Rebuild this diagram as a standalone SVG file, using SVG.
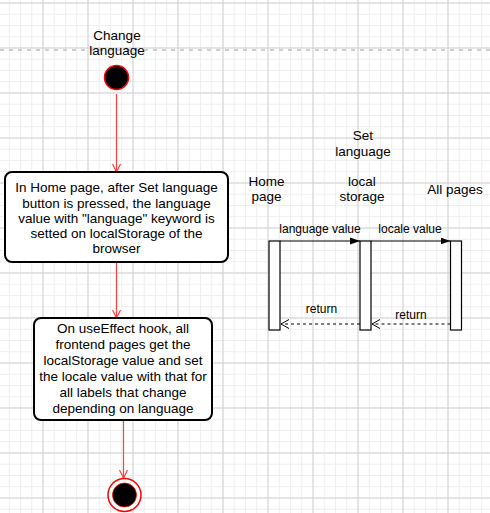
<svg xmlns="http://www.w3.org/2000/svg" width="490" height="513" viewBox="0 0 490 513">
<defs>
<pattern id="minor" width="11.25" height="11.25" patternUnits="userSpaceOnUse" x="-2.5" y="2.5">
<path d="M0 0.5H11.25M0.5 0V11.25" stroke="#eeeeee" stroke-width="1" fill="none"/>
</pattern>
<pattern id="major" width="45" height="45" patternUnits="userSpaceOnUse" x="-2.5" y="2.5">
<path d="M0 0.5H45M0.5 0V45" stroke="#d2d2d2" stroke-width="1" fill="none"/>
</pattern>
<marker id="openRed" viewBox="0 0 10 10" refX="9" refY="5" markerWidth="10" markerHeight="10" markerUnits="userSpaceOnUse" orient="auto">
<path d="M1 1L9 5L1 9" fill="none" stroke="#ff4040" stroke-width="1.2"/>
</marker>
<marker id="filled" viewBox="0 0 10 10" refX="10" refY="5" markerWidth="10" markerHeight="10" markerUnits="userSpaceOnUse" orient="auto">
<path d="M0 1.5L10 5L0 8.5Z" fill="#000"/>
</marker>
<marker id="openBlack" viewBox="0 0 10 10" refX="9" refY="5" markerWidth="10" markerHeight="10" markerUnits="userSpaceOnUse" orient="auto">
<path d="M1 0.5L9 5L1 9.5" fill="none" stroke="#000" stroke-width="1"/>
</marker>
</defs>
<style>
text{font-family:"Liberation Sans",Arial,sans-serif;fill:#000;text-anchor:middle}
.t{font-size:13.5px}
.s{font-size:12px}
.box{fill:#fff;stroke:#000;stroke-width:2}
.bar{fill:#fff;stroke:#000;stroke-width:1.2}
.red{stroke:#ff4040;stroke-width:1.2;fill:none}
.msg{stroke:#000;stroke-width:1.2;fill:none}
.ret{stroke:#000;stroke-width:1;fill:none;stroke-dasharray:3 3}
</style>
<rect width="490" height="513" fill="#fff"/>
<rect width="490" height="513" fill="url(#minor)"/>
<rect width="490" height="513" fill="url(#major)"/>
<line x1="0" y1="50" x2="490" y2="50" stroke="#c0c0c0" stroke-width="1.3" stroke-dasharray="4 5"/>

<g id="connectors">
<line class="red" x1="116.5" y1="94" x2="116.5" y2="172" marker-end="url(#openRed)"/>
<line class="red" x1="116.5" y1="262" x2="116.5" y2="318" marker-end="url(#openRed)"/>
<line class="red" x1="123.5" y1="420" x2="123.5" y2="478" marker-end="url(#openRed)"/>
<line class="msg" x1="280" y1="241" x2="360" y2="241" marker-end="url(#filled)"/>
<line class="msg" x1="371" y1="241" x2="450.5" y2="241" marker-end="url(#filled)"/>
<line class="ret" x1="360" y1="324" x2="281" y2="324" marker-end="url(#openBlack)"/>
<line class="ret" x1="450.5" y1="324" x2="372" y2="324" marker-end="url(#openBlack)"/>
<text class="s" x="320" y="233">language value</text>
<text class="s" x="410" y="233">locale value</text>
<text class="s" x="321.5" y="313">return</text>
<text class="s" x="411" y="318.5">return</text>
</g>

<g id="start">
<text class="t" x="117" y="39.5">Change</text>
<text class="t" x="117" y="54.5">language</text>
<circle cx="116.5" cy="77.5" r="12" fill="#000" stroke="#ff0000" stroke-width="1.5"/>
</g>

<g id="step1">
<rect class="box" x="5" y="172" width="223" height="90" rx="7"/>
<text class="t" x="116.5" y="192">In Home page, after Set language</text>
<text class="t" x="116.5" y="207.5">button is pressed, the language</text>
<text class="t" x="116.5" y="223">value with "language" keyword is</text>
<text class="t" x="116.5" y="238">setted on localStorage of the</text>
<text class="t" x="116.5" y="253">browser</text>
</g>

<g id="step2">
<rect class="box" x="34" y="318" width="178" height="102" rx="7"/>
<text class="t" x="123" y="333">On useEffect hook, all</text>
<text class="t" x="123" y="349">frontend pages get the</text>
<text class="t" x="123" y="365">localStorage value and set</text>
<text class="t" x="123" y="381">the locale value with that for</text>
<text class="t" x="123" y="397">all labels that change</text>
<text class="t" x="123" y="413">depending on language</text>
</g>

<g id="end">
<circle cx="124.5" cy="495" r="16.5" fill="#fff" stroke="#ff0000" stroke-width="1.5"/>
<circle cx="124.5" cy="495" r="12" fill="#000" stroke="#ff0000" stroke-width="0.8"/>
</g>

<g id="seq-title">
<text class="t" x="363" y="140">Set</text>
<text class="t" x="363" y="155.5">language</text>
</g>

<g id="home-page">
<text class="t" x="266.5" y="186">Home</text>
<text class="t" x="266.5" y="201">page</text>
<rect class="bar" x="269" y="241" width="11" height="89"/>
</g>

<g id="local-storage">
<text class="t" x="362" y="186">local</text>
<text class="t" x="362" y="201">storage</text>
<rect class="bar" x="360" y="241" width="11" height="89"/>
</g>

<g id="all-pages">
<text class="t" x="455" y="193.5">All pages</text>
<rect class="bar" x="450.5" y="241" width="11" height="89"/>
</g>
</svg>
